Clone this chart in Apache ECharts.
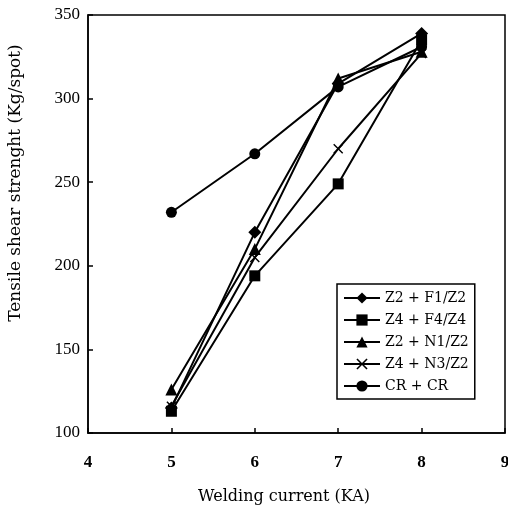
<!DOCTYPE html>
<html>
<head>
<meta charset="utf-8">
<script src="https://cdn.jsdelivr.net/npm/echarts@6/dist/echarts.min.js"></script>
<style>
  html, body { margin: 0; padding: 0; background: #fff; }
  #chart { width: 508px; height: 513px; }
</style>
</head>
<body>
<div id="chart"></div>
<script>
// welding current (KA)
var currents = [5, 6, 7, 8];

// tensile shear strength (Kg/spot) per joint
var z2F1Z2 = [115, 220, 309, 339];
var z4F4Z4 = [113, 194, 249, 335];
var z2N1Z2 = [126, 210, 312, 328];
var z4N3Z2 = [116, 205, 270, 327];
var crCr   = [232, 267, 307, 331];

var seriesNames = ['Z2 + F1/Z2', 'Z4 + F4/Z4', 'Z2 + N1/Z2', 'Z4 + N3/Z2', 'CR + CR'];

var crossPath = 'path://M0,1L1,0L5,4L9,0L10,1L6,5L10,9L9,10L5,6L1,10L0,9L4,5Z';
var symbols = ['diamond', 'rect', 'triangle', crossPath, 'circle'];
var symbolSizes = [13, 11, 12, 10, 11];
var values = [z2F1Z2, z4F4Z4, z2N1Z2, z4N3Z2, crCr];

var serif = '"Liberation Serif", serif';
var wideSerif = '"DejaVu Serif", serif';

var chart = echarts.init(document.getElementById('chart'), null, {renderer: 'canvas'});

var series = values.map(function (vals, i) {
    return {
        name: seriesNames[i],
        type: 'line',
        data: currents.map(function (c, j) { return [c, vals[j]]; }),
        symbol: symbols[i],
        symbolSize: symbolSizes[i],
        showAllSymbol: true,
        lineStyle: { color: '#000', width: 2 },
        itemStyle: { color: '#000', borderColor: '#000', borderWidth: 0 },
        emphasis: { disabled: true }
    };
});

chart.setOption({
    animation: false,
    grid: {
        left: 88, top: 15, width: 417, bottom: 80,
        outerBoundsMode: 'none',
        containLabel: false,
        show: true, borderColor: '#000', borderWidth: 1.5, backgroundColor: 'transparent'
    },
    legend: {
        data: seriesNames,
        orient: 'vertical',
        left: 337, top: 284,
        itemWidth: 36, itemHeight: 14,
        itemGap: 8,
        padding: [7, 6, 6, 6],
        borderColor: '#000', borderWidth: 1.5,
        backgroundColor: '#fff',
        textStyle: { fontFamily: wideSerif, fontSize: 14, color: '#000' }
    },
    xAxis: {
        type: 'value',
        min: 4, max: 9, interval: 1,
        name: 'Welding current (KA)',
        nameLocation: 'middle',
        nameGap: 56,
        nameTextStyle: { fontFamily: wideSerif, fontSize: 16, color: '#000', padding: [0, 25, 0, 0] },
        axisLine: { lineStyle: { color: '#000', width: 1.5 } },
        axisTick: { inside: true, length: 5, lineStyle: { color: '#000', width: 1.5 } },
        axisLabel: { fontFamily: serif, fontSize: 17, fontWeight: 'bold', color: '#000', margin: 21 },
        splitLine: { show: false }
    },
    yAxis: {
        type: 'value',
        min: 100, max: 350, interval: 50,
        name: 'Tensile shear strenght (Kg/spot)',
        nameLocation: 'middle',
        nameGap: 64,
        nameTextStyle: { fontFamily: wideSerif, fontSize: 17, color: '#000', padding: [0, 0, 0, 82] },
        axisLine: { lineStyle: { color: '#000', width: 1.5 } },
        axisTick: { inside: true, length: 5, lineStyle: { color: '#000', width: 1.5 } },
        axisLabel: { fontFamily: serif, fontSize: 17, color: '#000', margin: 8 },
        splitLine: { show: false }
    },
    series: series
});
</script>
</body>
</html>
